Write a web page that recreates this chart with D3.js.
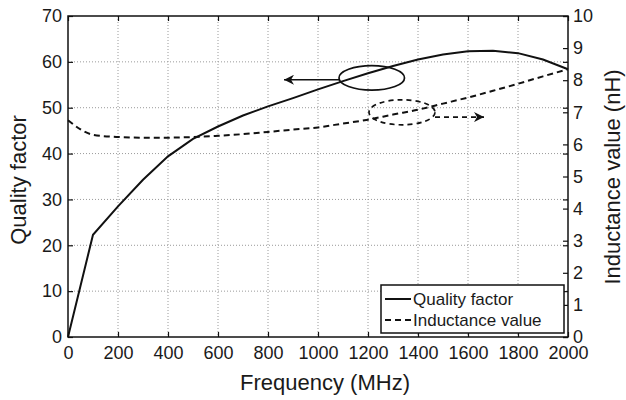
<!DOCTYPE html>
<html>
<head>
<meta charset="utf-8">
<script src="https://cdn.jsdelivr.net/npm/d3@7"></script>
<style>
  html, body { margin: 0; padding: 0; background: #fff; overflow: hidden; }
  svg { display: block; }
  text { font-family: "Liberation Sans", Arial, Helvetica, sans-serif; fill: #1a1a1a; }
</style>
</head>
<body>
<div id="chart"></div>
<script>
// frequency points (MHz)
const freq = [0, 100, 200, 300, 400, 500, 600, 700, 800, 900, 1000,
  1100, 1200, 1300, 1400, 1500, 1600, 1700, 1800, 1900, 2000];
// quality factor (left axis)
const quality = [0, 22.3, 28.5, 34.3, 39.4, 43.2, 45.9, 48.3, 50.3, 52.1, 54.0,
  55.8, 57.5, 59.1, 60.5, 61.6, 62.3, 62.4, 61.9, 60.5, 58.4];
// inductance value in nH (right axis)
const inductance = [6.75, 6.3, 6.23, 6.21, 6.21, 6.23, 6.27, 6.32, 6.39, 6.46, 6.53,
  6.65, 6.77, 6.93, 7.08, 7.27, 7.46, 7.67, 7.89, 8.12, 8.34];

const xTicks = [0, 200, 400, 600, 800, 1000, 1200, 1400, 1600, 1800, 2000];
const qTicks = [0, 10, 20, 30, 40, 50, 60, 70];
const lTicks = [0, 1, 2, 3, 4, 5, 6, 7, 8, 9, 10];

// annotation ellipses + arrows, in data units
const qNote = { cx: 1215, cy: 56.5, rx: 131, ry: 2.66, to: 864, at: 56.1 };
const lNote = { cx: 1336, cy: 7.0, rx: 132, ry: 0.39, from: 1468, to: 1664, at: 6.85 };

const width = 626, height = 400;
const margin = { top: 16, right: 58, bottom: 63, left: 68 };
const innerWidth = width - margin.left - margin.right;
const innerHeight = height - margin.top - margin.bottom;

const svg = d3.select("#chart")
  .append("svg")
  .attr("width", width)
  .attr("height", height);

const defs = svg.append("defs");
defs.append("marker")
  .attr("id", "head")
  .attr("viewBox", "0 0 10 10")
  .attr("refX", 10)
  .attr("refY", 5)
  .attr("markerWidth", 10)
  .attr("markerHeight", 10)
  .attr("markerUnits", "userSpaceOnUse")
  .attr("orient", "auto")
  .append("path")
  .attr("d", "M0,0 L10,5 L0,10 L3,5 Z")
  .attr("fill", "#111");

const g = svg.append("g")
  .attr("transform", `translate(${margin.left}, ${margin.top})`);

const x = d3.scaleLinear().domain([0, 2000]).range([0, innerWidth]);
const yQ = d3.scaleLinear().domain([0, 70]).range([innerHeight, 0]);
const yL = d3.scaleLinear().domain([0, 10]).range([innerHeight, 0]);

// dotted grid
g.selectAll(".vgrid")
  .data(xTicks.slice(1, -1))
  .enter()
  .append("line")
  .attr("x1", d => x(d)).attr("x2", d => x(d))
  .attr("y1", 0).attr("y2", innerHeight)
  .attr("stroke", "#9a9a9a")
  .attr("stroke-width", 1)
  .attr("stroke-dasharray", "1 2");

g.selectAll(".hgrid")
  .data(qTicks.slice(1, -1))
  .enter()
  .append("line")
  .attr("x1", 0).attr("x2", innerWidth)
  .attr("y1", d => yQ(d)).attr("y2", d => yQ(d))
  .attr("stroke", "#9a9a9a")
  .attr("stroke-width", 1)
  .attr("stroke-dasharray", "1 2");

// axes
function styleAxis(sel, size, keepText = true) {
  sel.select(".domain").remove();
  sel.selectAll(".tick line").attr("stroke", "#111").attr("stroke-width", 1.2);
  if (keepText) {
    sel.selectAll(".tick text").style("font-size", size + "px").attr("fill", "#1a1a1a");
  } else {
    sel.selectAll(".tick text").remove();
  }
}

g.append("g")
  .attr("transform", `translate(0, ${innerHeight})`)
  .call(d3.axisBottom(x).tickValues(xTicks).tickSize(-5).tickPadding(9).tickFormat(d3.format("d")))
  .call(s => styleAxis(s, 18));

g.append("g")
  .call(d3.axisTop(x).tickValues(xTicks).tickSize(-5))
  .call(s => styleAxis(s, 18, false));

g.append("g")
  .call(d3.axisLeft(yQ).tickValues(qTicks).tickSize(-5).tickPadding(6))
  .call(s => styleAxis(s, 18));

g.append("g")
  .attr("transform", `translate(${innerWidth}, 0)`)
  .call(d3.axisRight(yL).tickValues(lTicks).tickSize(-5).tickPadding(5))
  .call(s => styleAxis(s, 18));

g.append("g")
  .attr("transform", `translate(${innerWidth}, 0)`)
  .call(d3.axisRight(yQ).tickValues(qTicks).tickSize(-5))
  .call(s => styleAxis(s, 18, false));

// curves
const qLine = d3.line()
  .x((d, i) => x(freq[i]))
  .y(d => yQ(d));

const lLine = d3.line()
  .x((d, i) => x(freq[i]))
  .y(d => yL(d))
  .curve(d3.curveMonotoneX);

g.append("path")
  .datum(quality)
  .attr("d", qLine)
  .attr("fill", "none")
  .attr("stroke", "#111")
  .attr("stroke-width", 2);

g.append("path")
  .datum(inductance)
  .attr("d", lLine)
  .attr("fill", "none")
  .attr("stroke", "#111")
  .attr("stroke-width", 2)
  .attr("stroke-dasharray", "6 4");

// annotations
g.append("ellipse")
  .attr("cx", x(qNote.cx)).attr("cy", yQ(qNote.cy))
  .attr("rx", x(qNote.rx) - x(0)).attr("ry", yQ(0) - yQ(qNote.ry))
  .attr("fill", "none").attr("stroke", "#111").attr("stroke-width", 1.7);

g.append("line")
  .attr("x1", x(qNote.cx - qNote.rx)).attr("x2", x(qNote.to))
  .attr("y1", yQ(qNote.at)).attr("y2", yQ(qNote.at))
  .attr("stroke", "#111").attr("stroke-width", 1.7)
  .attr("marker-end", "url(#head)");

g.append("ellipse")
  .attr("cx", x(lNote.cx)).attr("cy", yL(lNote.cy))
  .attr("rx", x(lNote.rx) - x(0)).attr("ry", yL(0) - yL(lNote.ry))
  .attr("fill", "none").attr("stroke", "#111").attr("stroke-width", 1.7)
  .attr("stroke-dasharray", "5 4");

g.append("line")
  .attr("x1", x(lNote.from)).attr("x2", x(lNote.to))
  .attr("y1", yL(lNote.at)).attr("y2", yL(lNote.at))
  .attr("stroke", "#111").attr("stroke-width", 1.7)
  .attr("stroke-dasharray", "5 4")
  .attr("marker-end", "url(#head)");

// frame
g.append("rect")
  .attr("width", innerWidth).attr("height", innerHeight)
  .attr("fill", "none").attr("stroke", "#111").attr("stroke-width", 1.5);

// legend
const legend = g.append("g")
  .attr("transform", `translate(${innerWidth - 187}, ${innerHeight - 52})`);

legend.append("rect")
  .attr("width", 183).attr("height", 48)
  .attr("fill", "#fff").attr("stroke", "#111").attr("stroke-width", 1.5);

const legendItems = [
  { label: "Quality factor", dash: null },
  { label: "Inductance value", dash: "6 4" }
];

const item = legend.selectAll(".legend-item")
  .data(legendItems)
  .enter()
  .append("g")
  .attr("class", "legend-item")
  .attr("transform", (d, i) => `translate(0, ${14 + i * 21})`);

item.append("line")
  .attr("x1", 4).attr("x2", 30)
  .attr("y1", 0).attr("y2", 0)
  .attr("stroke", "#111").attr("stroke-width", 2)
  .attr("stroke-dasharray", d => d.dash);

item.append("text")
  .attr("x", 32).attr("y", 6)
  .text(d => d.label)
  .style("font-size", "17px");

// axis titles
svg.append("text")
  .attr("x", 325).attr("y", 390)
  .attr("text-anchor", "middle")
  .style("font-size", "22px")
  .text("Frequency (MHz)");

svg.append("text")
  .attr("transform", "translate(26, 180) rotate(-90)")
  .attr("text-anchor", "middle")
  .style("font-size", "22px")
  .text("Quality factor");

svg.append("text")
  .attr("transform", "translate(620, 177) rotate(-90)")
  .attr("text-anchor", "middle")
  .style("font-size", "22px")
  .text("Inductance value (nH)");
</script>
</body>
</html>
